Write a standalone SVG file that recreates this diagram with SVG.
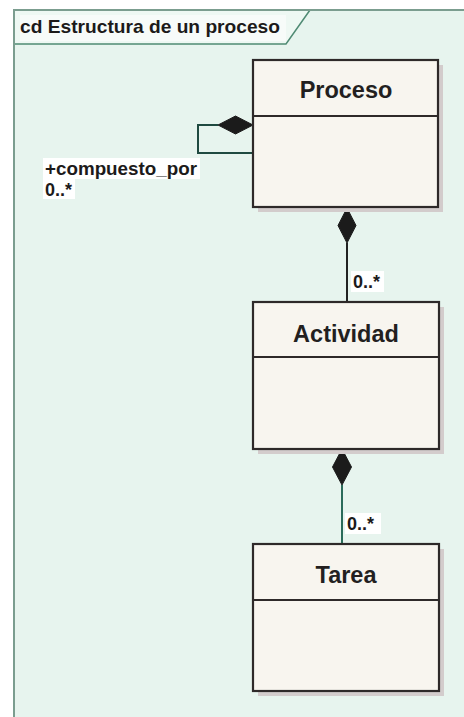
<svg xmlns="http://www.w3.org/2000/svg" width="464" height="717" viewBox="0 0 464 717">
<style>
.box{fill:#f8f5ef;stroke:#2e2929;stroke-width:2.2}
.shadow{fill:#d3cccc}
.div{stroke:#2e2929;stroke-width:2}
.title{font-family:"Liberation Sans",Arial,sans-serif;font-weight:bold;font-size:23.5px;fill:#231f1f;text-anchor:middle}
.lbl{font-family:"Liberation Sans",Arial,sans-serif;font-weight:bold;font-size:18px;fill:#1c1a1a}
.lblbg{fill:#ffffff}
.conn{fill:none;stroke-width:2}
.dia{fill:#1b1b1b;stroke:#1b1b1b;stroke-width:1}
</style>
<rect x="0" y="0" width="464" height="717" fill="#ffffff"/>
<g id="frame">
<rect x="14" y="10" width="460" height="720" fill="#e7f4ee"/>
<path d="M14,10 H310 L286,44 H14 Z" fill="#eef8f3"/>
<rect x="20" y="15" width="266" height="26" fill="#f7fbf9"/>
<path d="M14,44 H286 L310,10" fill="none" stroke="#4f8a73" stroke-width="1.5"/>
<path d="M14,717 V10 H474" fill="none" stroke="#7b9d8f" stroke-width="2"/>
<text x="20" y="33" font-family="Liberation Sans, Arial, sans-serif" font-weight="bold" font-size="19" fill="#1c1a1a" textLength="260" lengthAdjust="spacingAndGlyphs">cd Estructura de un proceso</text>
</g>
<g id="connectors">
<path class="conn" stroke="#1f4a40" d="M218,125 H198 V153 H253"/>
<path class="dia" d="M218,125 L235.5,116 L253,125 L235.5,134 Z"/>
<rect class="lblbg" x="43" y="158" width="157" height="21"/>
<text class="lbl" x="45" y="175" textLength="152" lengthAdjust="spacingAndGlyphs">+compuesto_por</text>
<rect class="lblbg" x="43" y="179" width="32" height="20"/>
<text class="lbl" x="45" y="196">0..*</text>
<path class="conn" stroke="#222222" d="M347,243 V302"/>
<path class="dia" d="M347,208 L356,225.5 L347,243 L338,225.5 Z"/>
<rect class="lblbg" x="351" y="271" width="33" height="21"/>
<text class="lbl" x="353" y="288">0..*</text>
<path class="conn" stroke="#2b6b5a" d="M342,485 V544"/>
<path class="dia" d="M342,449 L351.5,467 L342,485 L332.5,467 Z"/>
<rect class="lblbg" x="345" y="513" width="36" height="21"/>
<text class="lbl" x="347" y="530">0..*</text>
</g>
<g id="proceso">
<rect class="shadow" x="258" y="65" width="185" height="147"/>
<rect class="box" x="253" y="60" width="185" height="147"/>
<line class="div" x1="253" y1="116" x2="438" y2="116"/>
<text class="title" x="346" y="98">Proceso</text>
</g>
<g id="actividad">
<rect class="shadow" x="258" y="307" width="186" height="147"/>
<rect class="box" x="253" y="302" width="186" height="147"/>
<line class="div" x1="253" y1="357" x2="439" y2="357"/>
<text class="title" x="346" y="342">Actividad</text>
</g>
<g id="tarea">
<rect class="shadow" x="258" y="549" width="186" height="147"/>
<rect class="box" x="253" y="544" width="186" height="147"/>
<line class="div" x1="253" y1="600" x2="439" y2="600"/>
<text class="title" x="346" y="583">Tarea</text>
</g>
</svg>
